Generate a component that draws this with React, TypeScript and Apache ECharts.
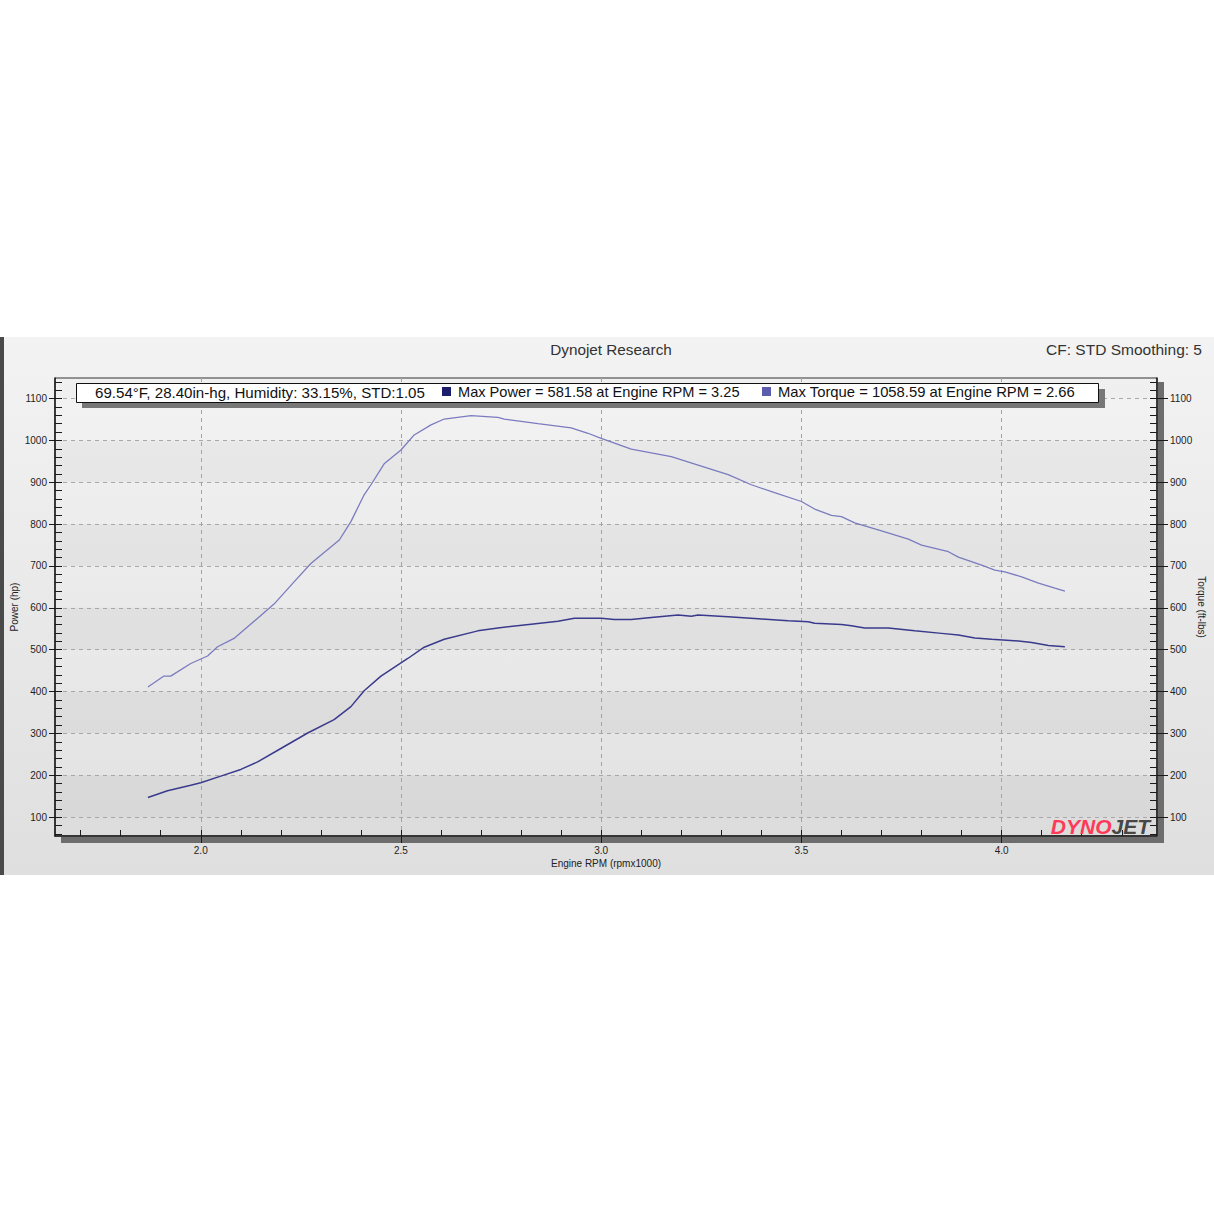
import React, { useEffect, useRef } from "react";
import * as echarts from "echarts";

// ---- Data read from the dyno sheet ----
const powerRpm = [
  1.868, 1.917, 1.975, 2.0, 2.05, 2.1, 2.142, 2.2, 2.267, 2.333, 2.375, 2.408, 2.45,
  2.517, 2.558, 2.608, 2.692, 2.742, 2.825, 2.892, 2.933, 3.0, 3.033, 3.075, 3.125,
  3.192, 3.225, 3.242, 3.317, 3.392, 3.467, 3.517, 3.533, 3.6, 3.625, 3.658, 3.717,
  3.783, 3.85, 3.892, 3.933, 3.975, 4.042, 4.075, 4.117, 4.158,
];
const powerHp = [
  147, 163, 176, 182, 198, 214, 232, 264, 301, 333, 364, 402, 437,
  479, 506, 525, 545, 552, 561, 568, 575, 575, 572, 572, 577,
  583, 580, 583, 579, 574, 569, 567, 563, 560, 557, 552, 552,
  545, 539, 535, 528, 525, 521, 517, 510, 507,
];
const torqueRpm = [
  1.868, 1.908, 1.925, 1.975, 2.017, 2.042, 2.083, 2.142, 2.183, 2.233, 2.275, 2.308,
  2.346, 2.375, 2.408, 2.425, 2.458, 2.5, 2.533, 2.575, 2.608, 2.675, 2.742, 2.758,
  2.842, 2.925, 2.967, 3.0, 3.075, 3.175, 3.242, 3.317, 3.375, 3.433, 3.5, 3.533,
  3.575, 3.6, 3.633, 3.7, 3.767, 3.8, 3.867, 3.892, 3.95, 3.983, 4.008, 4.05, 4.092,
  4.133, 4.158,
];
const torqueFtLbs = [
  411, 437, 437, 467, 485, 507, 527, 575, 609, 662, 706, 732,
  762, 806, 870, 894, 944, 977, 1013, 1037, 1051, 1059, 1055, 1051,
  1040, 1030, 1017, 1005, 979, 961, 941, 918, 894, 875, 854, 836,
  821, 818, 803, 784, 764, 750, 734, 721, 702, 690, 686, 674, 659,
  647, 640,
];

const xMajorTicks = [2.0, 2.5, 3.0, 3.5, 4.0];
const yMajorTicks = [100, 200, 300, 400, 500, 600, 700, 800, 900, 1000, 1100];

const titleText = "Dynojet Research";
const cfText = "CF: STD Smoothing: 5";
const conditionsText = "69.54°F, 28.40in-hg, Humidity: 33.15%, STD:1.05";
const powerName = "Max Power = 581.58 at Engine RPM = 3.25";
const torqueName = "Max Torque = 1058.59 at Engine RPM = 2.66";

const xMinorTicks: number[] = [];
for (let i = 17; i <= 43; i++) xMinorTicks.push(i / 10);
const yMinorTicks: number[] = [];
for (let v = 60; v <= 1140; v += 20) yMinorTicks.push(v);

const X_MIN = 1.636;
const X_MAX = 4.388;
const Y_MIN = 55;
const Y_MAX = 1149;

const FONT = "'Liberation Sans', Arial, sans-serif";
const AXIS_COLOR = "#1a1a1a";

export default function App() {
  const ref = useRef<HTMLDivElement>(null);

  useEffect(() => {
    if (!ref.current) return;
    const chart = echarts.init(ref.current, undefined, { renderer: "svg" });

    const powerData = powerRpm.map((r, i) => [r, powerHp[i]]);
    const torqueData = torqueRpm.map((r, i) => [r, torqueFtLbs[i]]);

    const labelStyle = {
      fontSize: 10,
      color: "#1e1e1e",
      fontFamily: FONT,
      formatter: (v: number) => String(v),
    };

    const option: any = {
      animation: false,
      backgroundColor: "#ffffff",
      grid: {
        left: 55,
        top: 378,
        width: 1102,
        height: 458,
        containLabel: false,
        outerBoundsMode: "none",
        show: true,
        borderColor: "#333333",
        borderWidth: 1,
        backgroundColor: new echarts.graphic.LinearGradient(0, 0, 0, 1, [
          { offset: 0, color: "#f0f0f0" },
          { offset: 1, color: "#dcdcdc" },
        ]),
      },
      xAxis: [
        {
          type: "value",
          position: "bottom",
          min: X_MIN,
          max: X_MAX,
          axisLine: { show: true, onZero: false, lineStyle: { color: AXIS_COLOR, width: 1.5 } },
          axisTick: {
            show: true,
            customValues: xMajorTicks,
            inside: false,
            length: 7,
            lineStyle: { color: AXIS_COLOR },
          },
          axisLabel: {
            customValues: xMajorTicks,
            margin: 9,
            fontSize: 10,
            color: "#1e1e1e",
            fontFamily: FONT,
            formatter: (v: number) => v.toFixed(1),
          },
          splitLine: { show: true, lineStyle: { type: [4, 4], color: "#a3a3a3", width: 1 } },
          name: "Engine RPM (rpmx1000)",
          nameLocation: "middle",
          nameGap: 22,
          nameMoveOverlap: false,
          nameTextStyle: { fontSize: 10, color: "#222", fontFamily: FONT },
        },
        {
          type: "value",
          position: "bottom",
          min: X_MIN,
          max: X_MAX,
          axisLine: { show: false, onZero: false },
          axisTick: {
            show: true,
            customValues: xMinorTicks,
            inside: true,
            length: 6,
            lineStyle: { color: AXIS_COLOR },
          },
          axisLabel: { show: false },
          splitLine: { show: false },
        },
      ],
      yAxis: [
        {
          type: "value",
          position: "left",
          min: Y_MIN,
          max: Y_MAX,
          axisLine: { show: true, onZero: false, lineStyle: { color: AXIS_COLOR, width: 1.5 } },
          axisTick: {
            show: true,
            customValues: yMajorTicks,
            inside: false,
            length: 6,
            lineStyle: { color: AXIS_COLOR },
          },
          axisLabel: { customValues: yMajorTicks, margin: 8, ...labelStyle },
          splitLine: { show: true, lineStyle: { type: [4, 4], color: "#a8a8a8", width: 1 } },
          splitArea: {
            show: true,
            areaStyle: { color: ["rgba(0,0,0,0.018)", "rgba(255,255,255,0.18)"] },
          },
          name: "Power (hp)",
          nameLocation: "middle",
          nameGap: 36,
          nameMoveOverlap: false,
          nameTextStyle: { fontSize: 10, color: "#222", fontFamily: FONT },
        },
        {
          type: "value",
          position: "left",
          min: Y_MIN,
          max: Y_MAX,
          axisLine: { show: false, onZero: false },
          axisTick: {
            show: true,
            customValues: yMinorTicks,
            inside: true,
            length: 7,
            lineStyle: { color: AXIS_COLOR },
          },
          axisLabel: { show: false },
          splitLine: { show: false },
        },
        {
          type: "value",
          position: "right",
          min: Y_MIN,
          max: Y_MAX,
          axisLine: { show: true, onZero: false, lineStyle: { color: AXIS_COLOR, width: 1.5 } },
          axisTick: {
            show: true,
            customValues: yMajorTicks,
            inside: false,
            length: 11,
            lineStyle: { color: AXIS_COLOR },
          },
          axisLabel: { customValues: yMajorTicks, margin: 13, ...labelStyle },
          splitLine: { show: false },
          name: "Torque (ft-lbs)",
          nameLocation: "middle",
          nameRotate: -90,
          nameGap: 39,
          nameMoveOverlap: false,
          nameTextStyle: { fontSize: 10, color: "#222", fontFamily: FONT },
        },
        {
          type: "value",
          position: "right",
          min: Y_MIN,
          max: Y_MAX,
          axisLine: { show: false, onZero: false },
          axisTick: {
            show: true,
            customValues: yMinorTicks,
            inside: true,
            length: 7,
            lineStyle: { color: AXIS_COLOR },
          },
          axisLabel: { show: false },
          splitLine: { show: false },
        },
      ],
      legend: [
        {
          data: [{ name: powerName, icon: "rect" }],
          left: 442,
          top: 384,
          itemWidth: 9,
          itemHeight: 9,
          padding: 0,
          selectedMode: false,
          z: 60,
          textStyle: { fontSize: 14.6, color: "#111", fontFamily: FONT, padding: [0, 0, 0, 2] },
        },
        {
          data: [{ name: torqueName, icon: "rect" }],
          left: 762,
          top: 384,
          itemWidth: 9,
          itemHeight: 9,
          padding: 0,
          selectedMode: false,
          z: 60,
          textStyle: { fontSize: 14.8, color: "#111", fontFamily: FONT, padding: [0, 0, 0, 2] },
        },
      ],
      series: [
        {
          type: "line",
          name: powerName,
          xAxisIndex: 0,
          yAxisIndex: 0,
          data: powerData,
          symbol: "none",
          showSymbol: false,
          itemStyle: { color: "#1d1d6e" },
          lineStyle: { color: "#3a3a8c", width: 1.5 },
          z: 5,
        },
        {
          type: "line",
          name: torqueName,
          xAxisIndex: 0,
          yAxisIndex: 2,
          data: torqueData,
          symbol: "none",
          showSymbol: false,
          itemStyle: { color: "#5c5cae" },
          lineStyle: { color: "#7b7bbf", width: 1.3 },
          z: 5,
        },
      ],
      graphic: [
        {
          type: "rect",
          z: -10,
          shape: { x: 0, y: 337, width: 1214, height: 538 },
          style: {
            fill: new echarts.graphic.LinearGradient(0, 0, 0, 1, [
              { offset: 0, color: "#f3f3f3" },
              { offset: 1, color: "#dfdfdf" },
            ]),
          },
        },
        {
          type: "rect",
          z: -9,
          shape: { x: 0, y: 337, width: 4, height: 538 },
          style: { fill: "#4a4a4a" },
        },
        {
          type: "rect",
          z: -9,
          shape: { x: 1158, y: 382, width: 6, height: 461 },
          style: { fill: "#6d6d6d" },
        },
        {
          type: "rect",
          z: -9,
          shape: { x: 61, y: 837, width: 1103, height: 6 },
          style: { fill: "#6d6d6d" },
        },
        {
          type: "rect",
          z: 50,
          shape: { x: 82, y: 389, width: 1023, height: 19 },
          style: { fill: "#777777" },
        },
        {
          type: "rect",
          z: 51,
          shape: { x: 76.5, y: 383.5, width: 1022, height: 19 },
          style: { fill: "#ffffff", stroke: "#111111", lineWidth: 1 },
        },
        {
          type: "text",
          z: 52,
          x: 95,
          y: 392.5,
          style: {
            text: conditionsText,
            fontSize: 15.1,
            fontFamily: FONT,
            fill: "#111",
            textAlign: "left",
            textVerticalAlign: "middle",
          },
        },
        {
          type: "text",
          z: 52,
          x: 611,
          y: 349,
          style: {
            text: titleText,
            fontSize: 15.3,
            fontFamily: FONT,
            fill: "#333",
            textAlign: "center",
            textVerticalAlign: "middle",
          },
        },
        {
          type: "text",
          z: 52,
          x: 1202,
          y: 349,
          style: {
            text: cfText,
            fontSize: 15.5,
            fontFamily: FONT,
            fill: "#333",
            textAlign: "right",
            textVerticalAlign: "middle",
          },
        },
        {
          type: "text",
          z: 52,
          x: 1150,
          y: 826,
          style: {
            text: "{a|DYNO}{b|JET}",
            textAlign: "right",
            textVerticalAlign: "middle",
            fontSize: 21,
            fontStyle: "italic",
            fontWeight: "bold",
            fontFamily: FONT,
            rich: {
              a: { fill: "#ff3a57", fontSize: 21, fontStyle: "italic", fontWeight: "bold", fontFamily: FONT },
              b: { fill: "#474747", fontSize: 21, fontStyle: "italic", fontWeight: "bold", fontFamily: FONT },
            },
          },
        },
      ],
    };

    chart.setOption(option);
    return () => chart.dispose();
  }, []);

  return (
    <div
      ref={ref}
      style={{ position: "absolute", left: 0, top: 0, width: 1214, height: 1214 }}
    />
  );
}
